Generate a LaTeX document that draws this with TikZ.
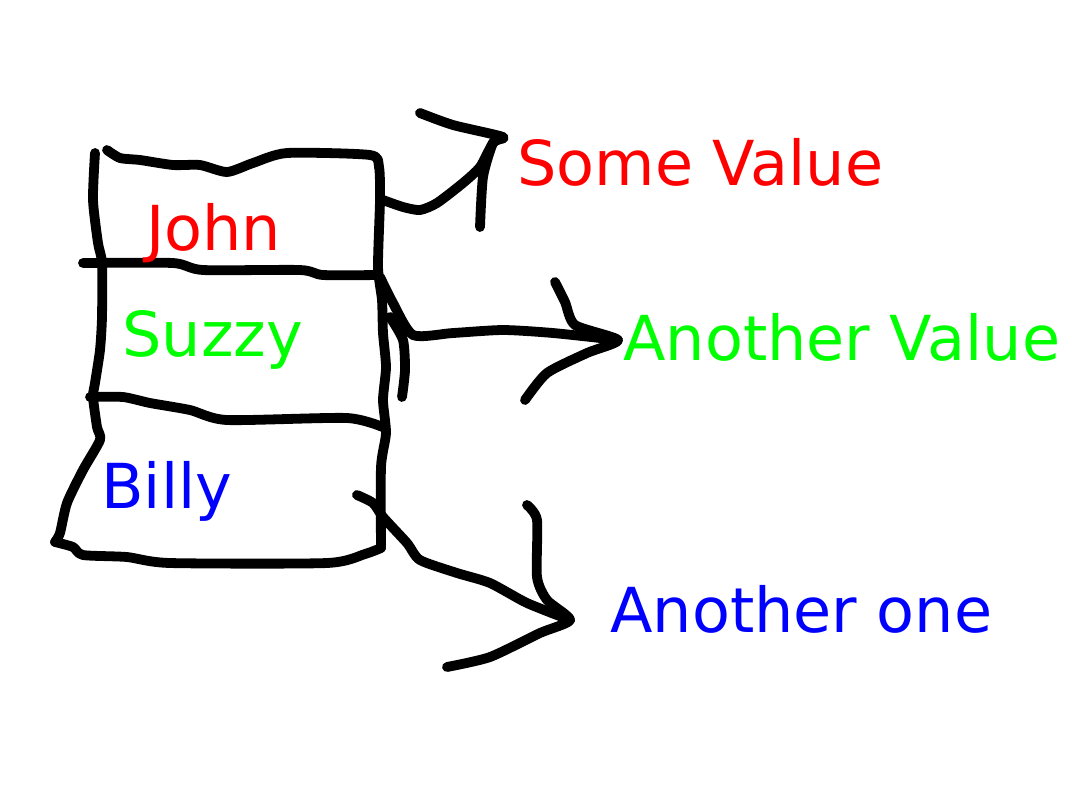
\documentclass[tikz,border=0pt]{standalone}
\usepackage{fontspec}
\setmainfont{DejaVu Sans}
\definecolor{namered}{RGB}{255,0,0}
\definecolor{namegreen}{RGB}{0,255,0}
\definecolor{nameblue}{RGB}{0,0,255}
\begin{document}
\begin{tikzpicture}[x=0.5pt,y=-0.5pt,
  pen/.style={line width=4.9pt,line cap=round,line join=round},
  label/.style={font=\fontsize{31}{37}\selectfont,anchor=base west,inner sep=0pt}]
  \useasboundingbox (0,0) rectangle (1092,784);
  % the table
  \draw[pen] plot[smooth,tension=0.4] coordinates {(95,153) (93,200) (98,243) (102,263) (102,317) (100,350) (95,383) (93,397) (97,427) (100,440) (83,470) (67,503) (60,533) (55,542)};
  \draw[pen] plot[smooth,tension=0.4] coordinates {(55,542) (73,547) (83,555) (127,557) (170,563) (327,563) (365,554) (381,548)};
  \draw[pen] plot[smooth,tension=0.4] coordinates {(107,150) (120,158) (140,160) (173,165) (200,165) (227,172) (253,163) (287,153) (370,155) (379,167) (380,200) (378,267) (382,300) (383,333) (386,367) (383,400) (386,433) (381,467) (381,548)};
  \draw[pen] plot[smooth,tension=0.4] coordinates {(83,263) (173,263) (203,270) (300,270) (323,275) (378,275)};
  \draw[pen] plot[smooth,tension=0.4] coordinates {(90,397) (123,397) (150,403) (190,410) (227,420) (347,418) (385,428)};
  % the arrows
  \coordinate (tip1) at (503,137);
  \coordinate (tip2) at (618,340);
  \coordinate (tip3) at (570,620);
  \draw[pen] plot[smooth,tension=0.4] coordinates {(383,200) (403,207) (420,210) (437,203) (463,183) (480,167) (493,143) (tip1)};
  \draw[pen] plot[smooth,tension=0.4] coordinates {(420,113) (453,125) (tip1) (493,143) (483,177) (480,227)};
  \draw[pen] plot[smooth,tension=0.4] coordinates {(380,277) (393,303) (413,335) (453,333) (503,330) (553,333) (tip2)};
  \draw[pen] plot[smooth,tension=0.4] coordinates {(555,282) (565,302) (575,325) (tip2) (587,353) (547,373) (525,400)};
  \draw[pen] plot[smooth,tension=0.4] coordinates {(390,317) (403,340) (405,370) (402,397)};
  \draw[pen] plot[smooth,tension=0.4] coordinates {(357,495) (373,503) (383,517) (407,543) (420,560) (457,573) (490,583) (527,603) (tip3)};
  \draw[pen] plot[smooth,tension=0.4] coordinates {(527,505) (537,520) (537,577) (547,600) (tip3) (540,633) (490,657) (447,667)};
  % the texts
  \node[label,text=namered] (john) at (146,250) {John};
  \node[label,text=namegreen] (suzzy) at (122,356) {Suzzy};
  \node[label,text=nameblue] (billy) at (101,508) {Billy};
  \node[label,text=namered] (someval) at (517,185) {Some Value};
  \node[label,text=namegreen] (anotherval) at (623,360) {Another Value};
  \node[label,text=nameblue] (anotherone) at (610,632) {Another one};
\end{tikzpicture}
\end{document}
